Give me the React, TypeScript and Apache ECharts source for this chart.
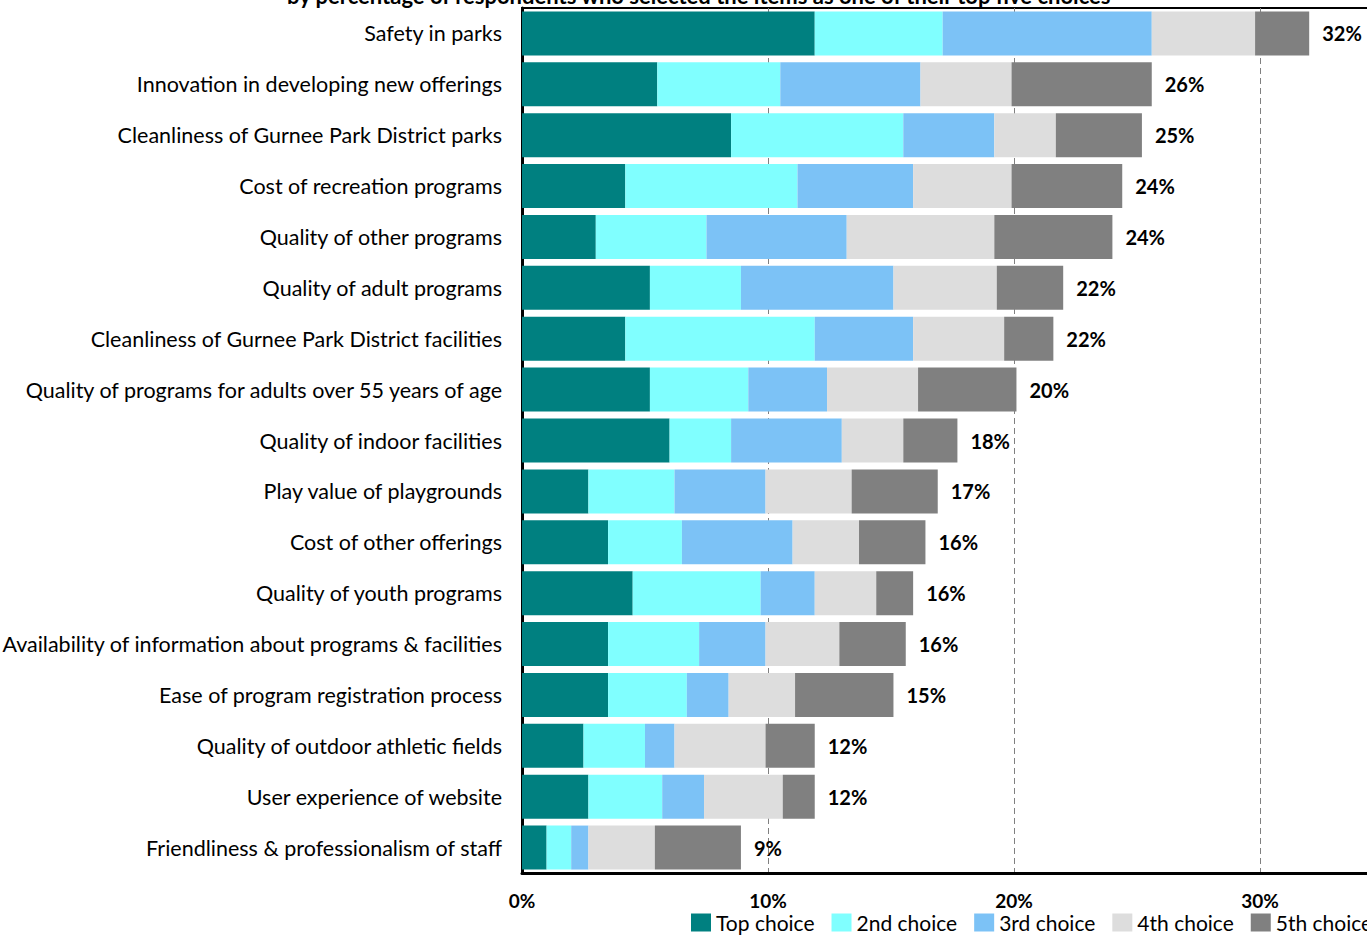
import React, { useEffect, useRef } from "react";
import * as echarts from "echarts";

const categories = [
  "Safety in parks",
  "Innovation in developing new offerings",
  "Cleanliness of Gurnee Park District parks",
  "Cost of recreation programs",
  "Quality of other programs",
  "Quality of adult programs",
  "Cleanliness of Gurnee Park District facilities",
  "Quality of programs for adults over 55 years of age",
  "Quality of indoor facilities",
  "Play value of playgrounds",
  "Cost of other offerings",
  "Quality of youth programs",
  "Availability of information about programs & facilities",
  "Ease of program registration process",
  "Quality of outdoor athletic fields",
  "User experience of website",
  "Friendliness & professionalism of staff",
];

const topChoice = [11.9, 5.5, 8.5, 4.2, 3.0, 5.2, 4.2, 5.2, 6.0, 2.7, 3.5, 4.5, 3.5, 3.5, 2.5, 2.7, 1.0];
const secondChoice = [5.2, 5.0, 7.0, 7.0, 4.5, 3.7, 7.7, 4.0, 2.5, 3.5, 3.0, 5.2, 3.7, 3.2, 2.5, 3.0, 1.0];
const thirdChoice = [8.5, 5.7, 3.7, 4.7, 5.7, 6.2, 4.0, 3.2, 4.5, 3.7, 4.5, 2.2, 2.7, 1.7, 1.2, 1.7, 0.7];
const fourthChoice = [4.2, 3.7, 2.5, 4.0, 6.0, 4.2, 3.7, 3.7, 2.5, 3.5, 2.7, 2.5, 3.0, 2.7, 3.7, 3.2, 2.7];
const fifthChoice = [2.2, 5.7, 3.5, 4.5, 4.8, 2.7, 2.0, 4.0, 2.2, 3.5, 2.7, 1.5, 2.7, 4.0, 2.0, 1.3, 3.5];
const totalLabels = ["32%", "26%", "25%", "24%", "24%", "22%", "22%", "20%", "18%", "17%", "16%", "16%", "16%", "15%", "12%", "12%", "9%"];

const seriesNames = ["Top choice", "2nd choice", "3rd choice", "4th choice", "5th choice"];
const seriesColors = ["#008080", "#80FFFF", "#7CC2F6", "#DDDDDD", "#808080"];
const xTicks = [0, 10, 20, 30];

const FONT = "Lato, 'Open Sans', sans-serif";

export default function App() {
  const ref = useRef<HTMLDivElement>(null);
  useEffect(() => {
    document.body.style.margin = "0";
    document.body.style.overflow = "hidden";
    const chart = echarts.init(ref.current!, null, { renderer: "svg" });
    const data = [topChoice, secondChoice, thirdChoice, fourthChoice, fifthChoice];
    const series = data.map((d, i) => ({
      name: seriesNames[i],
      type: "bar",
      stack: "total",
      data: d,
      barWidth: 44,
      itemStyle: { color: seriesColors[i] },
      label:
        i === 4
          ? {
              show: true,
              position: "right",
              distance: 13,
              formatter: (p: any) => totalLabels[p.dataIndex],
              color: "#000",
              fontWeight: "bold",
              fontSize: 20,
              fontFamily: FONT,
            }
          : { show: false },
    }));
    chart.setOption({
      animation: false,
      textStyle: { fontFamily: FONT },
      graphic: [
        {
          type: "text",
          x: 287,
          y: -16,
          style: {
            text: "by percentage of respondents who selected the items as one of their top five choices",
            fontSize: 22,
            fontWeight: "bold",
            fontFamily: FONT,
            fill: "#000",
          },
        },
      ],
      grid: {
        left: 522,
        width: 861,
        top: 8,
        bottom: 62,
        containLabel: false,
        outerBoundsMode: "none",
        show: true,
        borderColor: "#000",
        borderWidth: 2,
        backgroundColor: "transparent",
      },
      legend: {
        data: seriesNames,
        left: 686,
        top: 907,
        width: 900,
        itemWidth: 20,
        itemHeight: 18,
        itemGap: 17,
        icon: "rect",
        textStyle: { fontSize: 21, lineHeight: 21, color: "#000", fontFamily: FONT },
      },
      xAxis: {
        type: "value",
        min: 0,
        max: 35,
        interval: 10,
        axisLine: { show: true, lineStyle: { color: "#000", width: 3 } },
        axisTick: { show: false },
        splitLine: { show: true, lineStyle: { color: "#808080", type: [6, 4], width: 1 } },
        axisLabel: {
          margin: 18,
          fontSize: 19,
          lineHeight: 19,
          fontWeight: "bold",
          color: "#000",
          fontFamily: FONT,
          formatter: (v: number) => (xTicks.includes(v) ? v + "%" : ""),
        },
      },
      yAxis: {
        type: "category",
        data: categories,
        inverse: true,
        axisLine: { show: true, lineStyle: { color: "#000", width: 3 } },
        axisTick: { show: false },
        axisLabel: { fontSize: 21.5, color: "#000", margin: 20, fontFamily: FONT },
      },
      series,
    });
    return () => chart.dispose();
  }, []);
  return <div ref={ref} style={{ width: 1367, height: 935 }} />;
}
